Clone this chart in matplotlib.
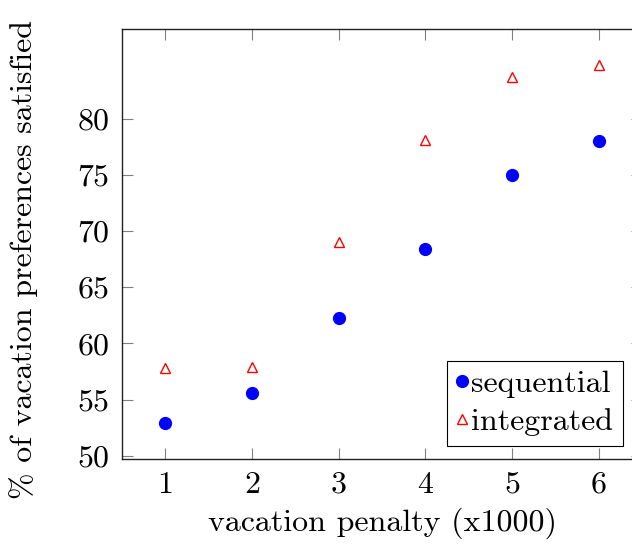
import matplotlib
matplotlib.use("Agg")
import matplotlib.pyplot as plt

penalty = [1, 2, 3, 4, 5, 6]
sequential = [52.9, 55.6, 62.3, 68.4, 75.0, 78.0]
integrated = [57.8, 57.95, 69.05, 78.1, 83.7, 84.8]
yticks = [50, 55, 60, 65, 70, 75, 80]

plt.rcParams['font.family'] = ['cmr10', 'DejaVu Serif']
plt.rcParams['axes.formatter.use_mathtext'] = True
FS = 23

fig = plt.figure(figsize=(6.32, 5.44), dpi=100)
ax = fig.add_axes([122/632, 85/544, 520/632, 430/544])

ax.plot(penalty, sequential, linestyle='none', marker='o', markersize=8.5,
        color='#0000ff', markeredgecolor='#0000ff', label='sequential')
ax.plot(penalty, integrated, linestyle='none', marker='^', markersize=6.5,
        markerfacecolor='white', markeredgecolor='#ff0000', markeredgewidth=1.0,
        label='integrated')

ax.set_xlim(0.5, 6.5)
ax.set_ylim(49.73, 87.96)
ax.set_xticks(penalty)
ax.set_xticklabels([str(v) for v in penalty])
ax.set_yticks(yticks)
ax.set_yticklabels([str(v) for v in yticks])
ax.tick_params(direction='in', length=8, width=0.8, color='#808080',
               top=True, right=True, labelsize=FS, pad=9)
for s in ax.spines.values():
    s.set_linewidth(1.0)
    s.set_color('#222222')

ax.set_xlabel('vacation penalty (x1000)', fontsize=FS, labelpad=6)
ax.set_ylabel('% of vacation preferences satisfied', fontsize=FS)
ax.yaxis.set_label_coords(-0.162, 0.465)

leg = ax.legend(loc='lower right', bbox_to_anchor=(501/520, 13/430), fontsize=FS,
                frameon=True, fancybox=False, edgecolor='black', framealpha=1,
                handlelength=0.3, handletextpad=0.15, borderpad=0.3,
                labelspacing=0.3, borderaxespad=0)
leg.get_frame().set_linewidth(0.8)

fig.savefig('out.png', dpi=100)
